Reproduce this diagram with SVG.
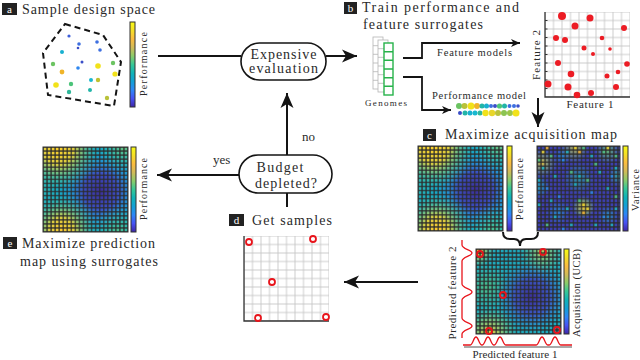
<svg xmlns="http://www.w3.org/2000/svg" xmlns:xlink="http://www.w3.org/1999/xlink" width="640" height="360" viewBox="0 0 640 360">
<style>
text{fill:#2a2a2a;font-family:'Liberation Serif','DejaVu Serif',serif}
.h{font-size:14px}
.n{font-size:14px;text-anchor:middle}
.s{font-size:10px;text-anchor:middle}
.lb{fill:#222}
.lt{font-size:11px;fill:#fff;text-anchor:middle}
.ln{fill:none;stroke:#141414;stroke-width:2}
.ln2{fill:none;stroke:#141414;stroke-width:1.8}
.stad{fill:#fff;stroke:#141414;stroke-width:1.6}
.frame{fill:none;stroke:#303030;stroke-width:1}
.cb{fill:url(#parula);stroke:#303030;stroke-width:1}
.ax{fill:none;stroke:#333;stroke-width:1.3}
.rd{fill:#ec1c24}
.rc{fill:#fff;stroke:#e8141b;stroke-width:1.8}
.rco{fill:none;stroke:#e8141b;stroke-width:1.8}
.gs{fill:none;stroke:#e8141b;stroke-width:1.3}
.gg{fill:#fff;stroke:#b4b4b4;stroke-width:0.8}
.gn{fill:#fff;stroke:#27b24a;stroke-width:1.4}
.sy{fill:#e8d030}.so{fill:#f0b030}.sg{fill:#50c080}.sc{fill:#20b0c0}.sb{fill:#2e87e8}
</style>
<defs>
<marker id="big" markerUnits="userSpaceOnUse" markerWidth="16" markerHeight="14" refX="15" refY="7" orient="auto" viewBox="0 0 16 14"><path d="M0,0.5 L15,7 L0,13.5 L4,7 z" fill="#141414"/></marker>
<marker id="small" markerUnits="userSpaceOnUse" markerWidth="10" markerHeight="9" refX="9" refY="4.5" orient="auto" viewBox="0 0 10 9"><path d="M0,0.5 L9,4.5 L0,8.5 L2.5,4.5 z" fill="#141414"/></marker>
<linearGradient id="parula" x1="0" y1="0" x2="0" y2="1">
<stop offset="0" stop-color="#f9fb14"/><stop offset="0.1" stop-color="#f5df28"/><stop offset="0.2" stop-color="#fbbc40"/><stop offset="0.3" stop-color="#d1bb59"/><stop offset="0.4" stop-color="#8bcc6a"/><stop offset="0.5" stop-color="#37c897"/><stop offset="0.6" stop-color="#10b3b8"/><stop offset="0.7" stop-color="#12a0d6"/><stop offset="0.8" stop-color="#2e87f7"/><stop offset="0.9" stop-color="#4752f4"/><stop offset="1" stop-color="#3e26a8"/>
</linearGradient>
<pattern id="cells" width="4.0476" height="4.0476" patternUnits="userSpaceOnUse"><rect width="4.0476" height="4.0476" fill="none" stroke="#2a2a2a" stroke-width="1.2"/></pattern>
<pattern id="grid" width="8.5" height="8.5" patternUnits="userSpaceOnUse"><rect width="8.5" height="8.5" fill="none" stroke="#c8c8c8" stroke-width="0.9"/></pattern>
<radialGradient id="pmBlue" cx="0.68" cy="0.52" r="0.46"><stop offset="0" stop-color="#3b2e9a"/><stop offset="0.45" stop-color="#3f44c0" stop-opacity="0.9"/><stop offset="0.75" stop-color="#2f7fe0" stop-opacity="0.45"/><stop offset="1" stop-color="#2f7fe0" stop-opacity="0"/></radialGradient>
<radialGradient id="pmY1" cx="0.18" cy="0.02" r="0.48"><stop offset="0" stop-color="#fcd02c"/><stop offset="0.38" stop-color="#eecf32" stop-opacity="0.92"/><stop offset="0.64" stop-color="#8ec96a" stop-opacity="0.6"/><stop offset="1" stop-color="#37c897" stop-opacity="0"/></radialGradient>
<radialGradient id="pmY2" cx="0.22" cy="0.98" r="0.42"><stop offset="0" stop-color="#fcc830"/><stop offset="0.35" stop-color="#eecf32" stop-opacity="0.9"/><stop offset="0.62" stop-color="#8ec96a" stop-opacity="0.6"/><stop offset="1" stop-color="#37c897" stop-opacity="0"/></radialGradient>
<radialGradient id="pmG1" cx="0.95" cy="0" r="0.3"><stop offset="0" stop-color="#7cc66e" stop-opacity="0.85"/><stop offset="1" stop-color="#37c897" stop-opacity="0"/></radialGradient>
<radialGradient id="pmG2" cx="0.88" cy="1" r="0.3"><stop offset="0" stop-color="#5cc67e" stop-opacity="0.8"/><stop offset="1" stop-color="#37c897" stop-opacity="0"/></radialGradient>
<radialGradient id="pmG3" cx="0" cy="0.5" r="0.22"><stop offset="0" stop-color="#33bfa6" stop-opacity="0.6"/><stop offset="1" stop-color="#33bfa6" stop-opacity="0"/></radialGradient>
<radialGradient id="aqBlue" cx="0.66" cy="0.56" r="0.42"><stop offset="0" stop-color="#3b2e9a"/><stop offset="0.5" stop-color="#3f48c4" stop-opacity="0.85"/><stop offset="1" stop-color="#2f7fe0" stop-opacity="0"/></radialGradient>
<radialGradient id="aqY1" cx="0.02" cy="0.02" r="0.2"><stop offset="0" stop-color="#f8d42a"/><stop offset="1" stop-color="#8ec96a" stop-opacity="0"/></radialGradient>
<radialGradient id="aqY2" cx="0.78" cy="0.04" r="0.26"><stop offset="0" stop-color="#c8c84a" stop-opacity="0.9"/><stop offset="1" stop-color="#6cc47a" stop-opacity="0"/></radialGradient>
<radialGradient id="aqY3" cx="0.16" cy="1" r="0.32"><stop offset="0" stop-color="#f4cc30"/><stop offset="0.5" stop-color="#9cc864" stop-opacity="0.7"/><stop offset="1" stop-color="#6cc47a" stop-opacity="0"/></radialGradient>
<radialGradient id="aqG" cx="0.12" cy="0.45" r="0.28"><stop offset="0" stop-color="#56c27e" stop-opacity="0.8"/><stop offset="1" stop-color="#56c27e" stop-opacity="0"/></radialGradient>
<radialGradient id="v1" cx="0.06" cy="0.2" r="0.18"><stop offset="0" stop-color="#e0bf3c" stop-opacity="0.95"/><stop offset="1" stop-color="#4cc08a" stop-opacity="0"/></radialGradient>
<radialGradient id="v2" cx="0.02" cy="0.48" r="0.13"><stop offset="0" stop-color="#20b0c0" stop-opacity="0.85"/><stop offset="1" stop-color="#20b0c0" stop-opacity="0"/></radialGradient>
<radialGradient id="v3" cx="0.45" cy="0.03" r="0.17"><stop offset="0" stop-color="#d4c244" stop-opacity="0.85"/><stop offset="1" stop-color="#5cc070" stop-opacity="0"/></radialGradient>
<radialGradient id="v4" cx="0.85" cy="0.06" r="0.15"><stop offset="0" stop-color="#6cc26a" stop-opacity="0.85"/><stop offset="1" stop-color="#5cc070" stop-opacity="0"/></radialGradient>
<radialGradient id="v5" cx="0.5" cy="0.38" r="0.18"><stop offset="0" stop-color="#2ab0a0" stop-opacity="0.75"/><stop offset="1" stop-color="#2ab0a0" stop-opacity="0"/></radialGradient>
<radialGradient id="v6" cx="0.56" cy="0.72" r="0.13"><stop offset="0" stop-color="#f6c82c"/><stop offset="0.6" stop-color="#9cc864" stop-opacity="0.6"/><stop offset="1" stop-color="#6cc47a" stop-opacity="0"/></radialGradient>
<radialGradient id="v7" cx="0.97" cy="0.35" r="0.12"><stop offset="0" stop-color="#30b8a0" stop-opacity="0.8"/><stop offset="1" stop-color="#30b8a0" stop-opacity="0"/></radialGradient>
<radialGradient id="v8" cx="0.25" cy="0.78" r="0.14"><stop offset="0" stop-color="#2098d0" stop-opacity="0.75"/><stop offset="1" stop-color="#2098d0" stop-opacity="0"/></radialGradient>
<radialGradient id="v9" cx="0.86" cy="0.82" r="0.12"><stop offset="0" stop-color="#20a8c0" stop-opacity="0.7"/><stop offset="1" stop-color="#20a8c0" stop-opacity="0"/></radialGradient>
<radialGradient id="v10" cx="0.3" cy="0.12" r="0.1"><stop offset="0" stop-color="#1e98d0" stop-opacity="0.7"/><stop offset="1" stop-color="#1e98d0" stop-opacity="0"/></radialGradient>
<g id="perfMap">
<rect width="85" height="85" fill="#17a6c6"/>
<rect width="85" height="85" fill="url(#pmG3)"/>
<rect width="85" height="85" fill="url(#pmBlue)"/>
<rect width="85" height="85" fill="url(#pmY1)"/>
<rect width="85" height="85" fill="url(#pmY2)"/>
<rect width="85" height="85" fill="url(#pmG1)"/>
<rect width="85" height="85" fill="url(#pmG2)"/>
<rect width="85" height="85" fill="url(#cells)"/>
<rect width="85" height="85" class="frame"/>
</g>
<g id="scatGrid">
<rect width="85" height="85" fill="#fff"/>
<rect width="85" height="85" fill="url(#grid)"/>
<path d="M0,0V85H85" class="ax"/>
</g>
</defs>

<g id="connectors">
<path d="M158,56H241" class="ln"/>
<path d="M326,56H357" class="ln" marker-end="url(#big)"/>
<path d="M287,155V93" class="ln" marker-end="url(#big)"/>
<path d="M287,193V207" class="ln"/>
<path d="M239,175H157" class="ln" marker-end="url(#big)"/>
<path d="M403,58H422V43H520" class="ln2" marker-end="url(#small)"/>
<path d="M403,77H422V110H451" class="ln2" marker-end="url(#small)"/>
<path d="M538,98V127" class="ln" marker-end="url(#big)"/>
<path d="M418,282H344" class="ln" marker-end="url(#big)"/>
<path d="M503,232Q503,239 510,239H514Q520,239 520,246Q520,239 526,239H531Q538,239 538,232" fill="none" stroke="#141414" stroke-width="2"/>
<text x="302" y="141" style="font-size:13px">no</text>
<text x="213" y="164" style="font-size:13px">yes</text>
</g>

<g id="panel-a">
<rect x="2" y="3" width="15" height="12" class="lb"/><text x="9.5" y="13" class="lt">a</text>
<text x="22" y="14" class="h" textLength="133">Sample design space</text>
<path d="M65,24L103,35L121,62L114,106L48,95L43,53Z" fill="none" stroke="#141414" stroke-width="2" stroke-dasharray="6,4"/>
<circle cx="69" cy="36" r="1.6" fill="#3d5fd9"/>
<circle cx="79" cy="44" r="1.8" fill="#3d6fe0"/>
<circle cx="78" cy="48" r="1.3" fill="#3a4ec8"/>
<circle cx="97" cy="42" r="1.8" fill="#3d6fe0"/>
<circle cx="100" cy="50" r="1.8" fill="#3d6fe0"/>
<circle cx="62" cy="52" r="2" fill="#18b0d0"/>
<circle cx="82" cy="62" r="1.5" fill="#3a4ec8"/>
<circle cx="53" cy="64" r="2.2" fill="#6cc462"/>
<circle cx="98" cy="66" r="2.8" fill="#f2e21a"/>
<circle cx="113" cy="63" r="2.2" fill="#6cc462"/>
<circle cx="78" cy="68" r="1.8" fill="#2e87f0"/>
<circle cx="62" cy="72" r="2.4" fill="#f0b429"/>
<circle cx="115" cy="74" r="2.6" fill="#f2e21a"/>
<circle cx="91" cy="80" r="2" fill="#18b8d0"/>
<circle cx="98" cy="80" r="2.2" fill="#c0c030"/>
<circle cx="56" cy="85" r="2.8" fill="#f2e21a"/>
<circle cx="71" cy="84" r="2.2" fill="#4cc47a"/>
<circle cx="69" cy="92" r="2.2" fill="#30b89a"/>
<circle cx="90" cy="90" r="2" fill="#22b5a8"/>
<circle cx="107" cy="98" r="2.2" fill="#b9c23a"/>
<rect x="130" y="22" width="5" height="85" class="cb"/>
<text transform="translate(147,64) rotate(-90)" class="s" textLength="64">Performance</text>
</g>

<g id="expensive">
<rect x="241" y="43" width="85" height="37" rx="18.5" class="stad"/>
<text x="283.5" y="58.5" class="n" textLength="66">Expensive</text>
<text x="283.5" y="73" class="n" textLength="69">evaluation</text>
</g>

<g id="budget">
<rect x="239" y="155" width="93" height="38" rx="19" class="stad"/>
<text x="280" y="171.5" class="n" textLength="47">Budget</text>
<text x="286" y="188" class="n" textLength="62">depleted?</text>
</g>

<g id="panel-b">
<rect x="344" y="2" width="13" height="12" class="lb"/><text x="350.5" y="12" class="lt">b</text>
<text x="362" y="12" class="h" textLength="157">Train performance and</text>
<text x="363" y="29" class="h" textLength="120">feature surrogates</text>
</g>

<g id="genomes">
<rect x="373" y="37" width="10" height="52" class="gg"/>
<path d="M373,45.7H383M373,54.3H383M373,63H383M373,71.7H383M373,80.3H383" class="gg"/>
<rect x="378" y="40" width="10" height="52" class="gg"/>
<path d="M378,48.7H388M378,57.3H388M378,66H388M378,74.7H388M378,83.3H388" class="gg"/>
<rect x="384" y="43" width="9" height="52" class="gn"/>
<path d="M384,51.7H393M384,60.3H393M384,69H393M384,77.7H393M384,86.3H393" class="gn"/>
<text x="386" y="106" style="font-size:9px;text-anchor:middle" textLength="42">Genomes</text>
</g>

<g id="feature-models">
<text x="474.5" y="56" class="s" style="font-size:10.5px" textLength="75">Feature models</text>
<use href="#scatGrid" x="545" y="12"/>
<path d="M545,20.5h2.5M545,29h2.5M545,37.5h2.5M545,46h2.5M545,54.5h2.5M545,63h2.5M545,71.5h2.5M545,80h2.5M545,88.5h2.5" stroke="#333" stroke-width="1"/>
<circle cx="562" cy="16" r="4" class="rd"/>
<circle cx="590" cy="18" r="3.5" class="rd"/>
<circle cx="575" cy="26" r="3.5" class="rd"/>
<circle cx="624" cy="28" r="3" class="rd"/>
<circle cx="556" cy="38" r="3" class="rd"/>
<circle cx="565" cy="40" r="3" class="rd"/>
<circle cx="602" cy="38" r="2.3" class="rd"/>
<circle cx="584" cy="48" r="2.5" class="rd"/>
<circle cx="610" cy="49" r="1.8" class="rd"/>
<circle cx="593" cy="54" r="2" class="rd"/>
<circle cx="558" cy="63" r="3" class="rd"/>
<circle cx="627" cy="64" r="2.8" class="rd"/>
<circle cx="571" cy="74" r="3.3" class="rd"/>
<circle cx="618" cy="72" r="2.3" class="rd"/>
<circle cx="607" cy="76" r="2.5" class="rd"/>
<circle cx="548" cy="84" r="3.5" class="rd"/>
<circle cx="568" cy="87" r="3.5" class="rd"/>
<circle cx="616" cy="87" r="3" class="rd"/>
<circle cx="577" cy="95" r="3.3" class="rd"/>
<circle cx="591" cy="93" r="3" class="rd"/>
<text transform="translate(540,55) rotate(-90)" class="s" style="font-size:11px" textLength="50">Feature 2</text>
<text x="590" y="108" class="s" style="font-size:11px" textLength="47">Feature 1</text>
</g>

<g id="performance-model">
<text x="479" y="99" class="s" style="font-size:10.5px" textLength="94">Performance model</text>
<circle cx="459" cy="106" r="3" fill="#6cc462"/>
<circle cx="464.5" cy="106" r="3" fill="#b9c23a"/>
<circle cx="471" cy="106" r="3.5" fill="#f2e21a"/>
<circle cx="477" cy="106" r="3" fill="#f0b429"/>
<circle cx="482" cy="106" r="2.5" fill="#22b5a8"/>
<circle cx="486.5" cy="106" r="2.5" fill="#18b0d0"/>
<circle cx="491" cy="106" r="2" fill="#3d6fe0"/>
<circle cx="495" cy="106" r="2" fill="#3a4ec8"/>
<circle cx="499.5" cy="106" r="2.6" fill="#4cc47a"/>
<circle cx="504.5" cy="106" r="2.5" fill="#22b5a8"/>
<circle cx="509.5" cy="106" r="2" fill="#3d6fe0"/>
<circle cx="514" cy="106" r="2" fill="#3d6fe0"/>
<circle cx="518" cy="106" r="1.8" fill="#3a4ec8"/>
<circle cx="460" cy="113" r="2" fill="#3a4ec8"/>
<circle cx="465" cy="113" r="2.5" fill="#22b5a8"/>
<circle cx="470" cy="113" r="2.5" fill="#18b0d0"/>
<circle cx="475" cy="113" r="2.5" fill="#18b8d0"/>
<circle cx="480" cy="113" r="2.5" fill="#30b89a"/>
<circle cx="485.5" cy="113" r="3.2" fill="#f2e21a"/>
<circle cx="492" cy="113" r="3.2" fill="#e8d62a"/>
<circle cx="498" cy="113" r="3" fill="#b9c23a"/>
<circle cx="504" cy="113" r="3" fill="#8cc452"/>
<circle cx="510" cy="113" r="3" fill="#9cc64a"/>
<circle cx="516" cy="113" r="3.5" fill="#f2e21a"/>
</g>

<g id="panel-c">
<rect x="423" y="129" width="13" height="12" class="lb"/><text x="429.5" y="139" class="lt">c</text>
<text x="445" y="139" class="h" textLength="172">Maximize acquisition map</text>
<use href="#perfMap" x="418" y="146"/>
<rect x="507" y="146" width="5" height="85" class="cb"/>
<text transform="translate(523,189) rotate(-90)" class="s" textLength="62">Performance</text>
<g transform="translate(537,146)">
<rect width="83" height="85" fill="#3c3fae"/>
<rect width="83" height="85" fill="url(#v10)"/>
<rect width="83" height="85" fill="url(#v8)"/>
<rect width="83" height="85" fill="url(#v9)"/>
<rect width="83" height="85" fill="url(#v5)"/>
<rect width="83" height="85" fill="url(#v2)"/>
<rect width="83" height="85" fill="url(#v7)"/>
<rect width="83" height="85" fill="url(#v1)"/>
<rect width="83" height="85" fill="url(#v3)"/>
<rect width="83" height="85" fill="url(#v4)"/>
<rect width="83" height="85" fill="url(#v6)"/>
<g transform="scale(4.0476)" opacity="0.85">
<rect x="1" y="1" width="1" height="1" class="sy"/><rect x="2" y="0" width="1" height="1" class="so"/><rect x="0" y="3" width="1" height="1" class="sg"/><rect x="1" y="5" width="1" height="1" class="sc"/><rect x="3" y="2" width="1" height="1" class="sg"/><rect x="0" y="8" width="1" height="1" class="sc"/><rect x="2" y="10" width="1" height="1" class="sb"/><rect x="4" y="7" width="1" height="1" class="sc"/><rect x="6" y="3" width="1" height="1" class="sb"/><rect x="7" y="1" width="1" height="1" class="sc"/><rect x="9" y="0" width="1" height="1" class="sy"/><rect x="10" y="1" width="1" height="1" class="so"/><rect x="11" y="0" width="1" height="1" class="sg"/><rect x="13" y="2" width="1" height="1" class="sc"/><rect x="16" y="1" width="1" height="1" class="sg"/><rect x="17" y="0" width="1" height="1" class="sy"/><rect x="19" y="2" width="1" height="1" class="sg"/><rect x="19" y="5" width="1" height="1" class="sc"/><rect x="18" y="7" width="1" height="1" class="sb"/><rect x="15" y="6" width="1" height="1" class="sc"/><rect x="12" y="8" width="1" height="1" class="sg"/><rect x="9" y="9" width="1" height="1" class="sc"/><rect x="10" y="7" width="1" height="1" class="sc"/><rect x="13" y="11" width="1" height="1" class="sb"/><rect x="17" y="10" width="1" height="1" class="sc"/><rect x="19" y="12" width="1" height="1" class="sg"/><rect x="19" y="15" width="1" height="1" class="sc"/><rect x="16" y="17" width="1" height="1" class="sb"/><rect x="14" y="19" width="1" height="1" class="sc"/><rect x="11" y="14" width="1" height="1" class="sy"/><rect x="12" y="15" width="1" height="1" class="sy"/><rect x="11" y="16" width="1" height="1" class="so"/><rect x="10" y="13" width="1" height="1" class="sg"/><rect x="7" y="15" width="1" height="1" class="sc"/><rect x="4" y="17" width="1" height="1" class="sc"/><rect x="2" y="19" width="1" height="1" class="sg"/><rect x="0" y="14" width="1" height="1" class="sc"/><rect x="5" y="12" width="1" height="1" class="sb"/><rect x="8" y="19" width="1" height="1" class="sc"/><rect x="18" y="19" width="1" height="1" class="sc"/><rect x="3" y="13" width="1" height="1" class="sc"/><rect x="6" y="20" width="1" height="1" class="sb"/><rect x="14" y="4" width="1" height="1" class="sg"/><rect x="8" y="6" width="1" height="1" class="sg"/>
</g>
<rect width="83" height="85" fill="url(#cells)"/>
<rect width="83" height="85" class="frame"/>
</g>
<rect x="623" y="146" width="5" height="85" class="cb"/>
<text transform="translate(639,190) rotate(-90)" class="s" textLength="42">Variance</text>
</g>

<g id="acquisition">
<g transform="translate(476,249)">
<rect width="85" height="85" fill="#1ea8bc"/>
<rect width="85" height="85" fill="url(#aqG)"/>
<rect width="85" height="85" fill="url(#aqBlue)"/>
<rect width="85" height="85" fill="url(#aqY1)"/>
<rect width="85" height="85" fill="url(#aqY2)"/>
<rect width="85" height="85" fill="url(#aqY3)"/>
<rect width="85" height="85" fill="url(#cells)"/>
<rect width="85" height="85" class="frame"/>
</g>
<circle cx="480" cy="254" r="3" class="rco"/>
<circle cx="543" cy="252" r="3" class="rco"/>
<circle cx="503" cy="295" r="3" class="rco"/>
<circle cx="489" cy="331" r="3" class="rco"/>
<circle cx="557" cy="330" r="3" class="rco"/>
<rect x="564" y="249" width="5" height="85" class="cb"/>
<text transform="translate(580,293) rotate(-90)" class="s" style="font-size:10.5px" textLength="88">Acquisition (UCB)</text>
<path d="M464,347H572" stroke="#555" stroke-width="1.2"/>
<path d="M462,240V245C462,249 472,250 472,253C472,256 462,257 462,261V284C462,288 472,289 472,292C472,295 462,296 462,300V318C462,322 472,323 472,326C472,329 462,330 462,334V338" class="gs"/>
<path d="M463,345H470C473,345 473.5,337 476,337C478.5,337 479,345 482,345C485,345 485.5,337 488,337C490.5,337 491,345 494,345C497,345 497.5,337 500,337C502.5,337 503,345 506,345H536C539,345 539.5,337 542,337C544.5,337 545,345 548,345H549C552,345 552.5,337 555,337C557.5,337 558,345 561,345H572" class="gs"/>
<text transform="translate(456,293) rotate(-90)" class="s" style="font-size:11px" textLength="93">Predicted feature 2</text>
<text x="515" y="358" class="s" style="font-size:11px" textLength="85">Predicted feature 1</text>
</g>

<g id="panel-d">
<rect x="229" y="214" width="15" height="12" class="lb"/><text x="236.5" y="224" class="lt">d</text>
<text x="252" y="225" class="h" textLength="80">Get samples</text>
<use href="#scatGrid" x="244" y="236"/>
<circle cx="249" cy="242" r="3" class="rc"/>
<circle cx="313" cy="239" r="3" class="rc"/>
<circle cx="272" cy="282" r="3" class="rc"/>
<circle cx="258" cy="318" r="3" class="rc"/>
<circle cx="326" cy="317" r="3" class="rc"/>
</g>

<g id="panel-e">
<use href="#perfMap" x="43" y="147"/>
<rect x="131" y="147" width="5" height="85" class="cb"/>
<text transform="translate(147,189) rotate(-90)" class="s" textLength="62">Performance</text>
<rect x="3" y="237" width="14" height="12" class="lb"/><text x="10" y="247" class="lt">e</text>
<text x="22" y="248" class="h" textLength="133">Maximize prediction</text>
<text x="20" y="266" class="h" textLength="138">map using surrogates</text>
</g>
</svg>
